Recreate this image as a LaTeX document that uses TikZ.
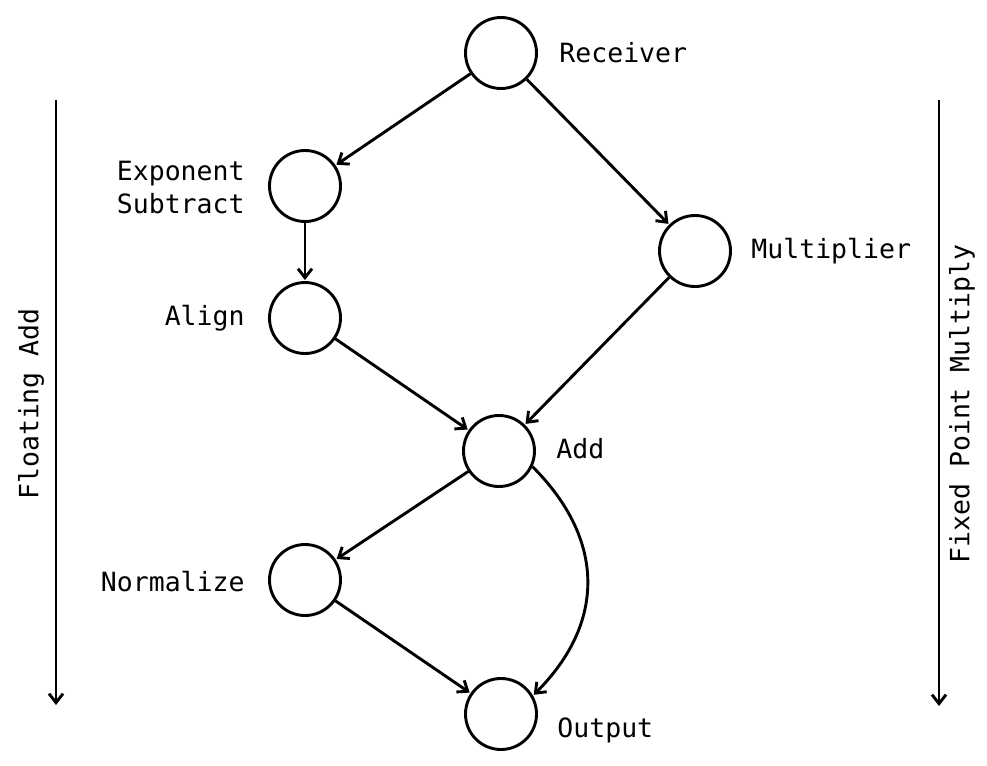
\documentclass[tikz,border=0pt]{standalone}
\usepackage{fontspec}
\setmonofont{DejaVu Sans Mono}
\usetikzlibrary{arrows.meta}
\begin{document}
\begin{tikzpicture}[x=1pt,y=-1pt,
    line width=2.9pt,
    >={Straight Barb[length=9pt,width=14pt]},
    stage/.style={draw,circle,minimum size=71pt,inner sep=0pt},
    lbl/.style={font=\ttfamily\fontsize{26.5}{33}\selectfont,inner sep=0pt},
    flow/.style={->,shorten >=1pt}]
  \useasboundingbox (0,0) rectangle (987,765);

  % pipeline stages
  \node[stage] (rec) at (501,53) {};
  \node[stage] (exp) at (305,186) {};
  \node[stage] (mul) at (695,251) {};
  \node[stage] (ali) at (305,318) {};
  \node[stage] (add) at (499,451) {};
  \node[stage] (nor) at (305,580) {};
  \node[stage] (out) at (501,714) {};

  % stage names
  \node[lbl,anchor=west] (recl) at (558,53) {Receiver};
  \node[lbl,anchor=east,align=left] (expl) at (246,188) {Exponent\\Subtract};
  \node[lbl,anchor=west] (mull) at (750,251) {Multiplier};
  \node[lbl,anchor=east] (alil) at (246,318) {Align};
  \node[lbl,anchor=west] (addl) at (555,449) {Add};
  \node[lbl,anchor=east] (norl) at (246,582) {Normalize};
  \node[lbl,anchor=west] (outl) at (556,730) {Output};

  % data flow
  \draw[flow] (rec) -- (exp);
  \draw[flow] (rec) -- (mul);
  \draw[flow] (exp) -- (ali);
  \draw[flow] (ali) -- (add);
  \draw[flow] (mul) -- (add);
  \draw[flow] (add) -- (nor);
  \draw[flow] (nor) -- (out);
  \draw[flow] (add.-25) to[out=-45,in=45,looseness=1.15] (out.30);

  % side brackets for the two operations
  \coordinate (ltop) at (56,100);
  \coordinate (lbot) at (56,705);
  \coordinate (rtop) at (939,100);
  \coordinate (rbot) at (939,706);
  \draw[->] (ltop) -- (lbot);
  \draw[->] (rtop) -- (rbot);
  \node[lbl,rotate=90] (fadd) at (31,404) {Floating Add};
  \node[lbl,rotate=90] (fmul) at (962,404) {Fixed Point Multiply};
\end{tikzpicture}
\end{document}
